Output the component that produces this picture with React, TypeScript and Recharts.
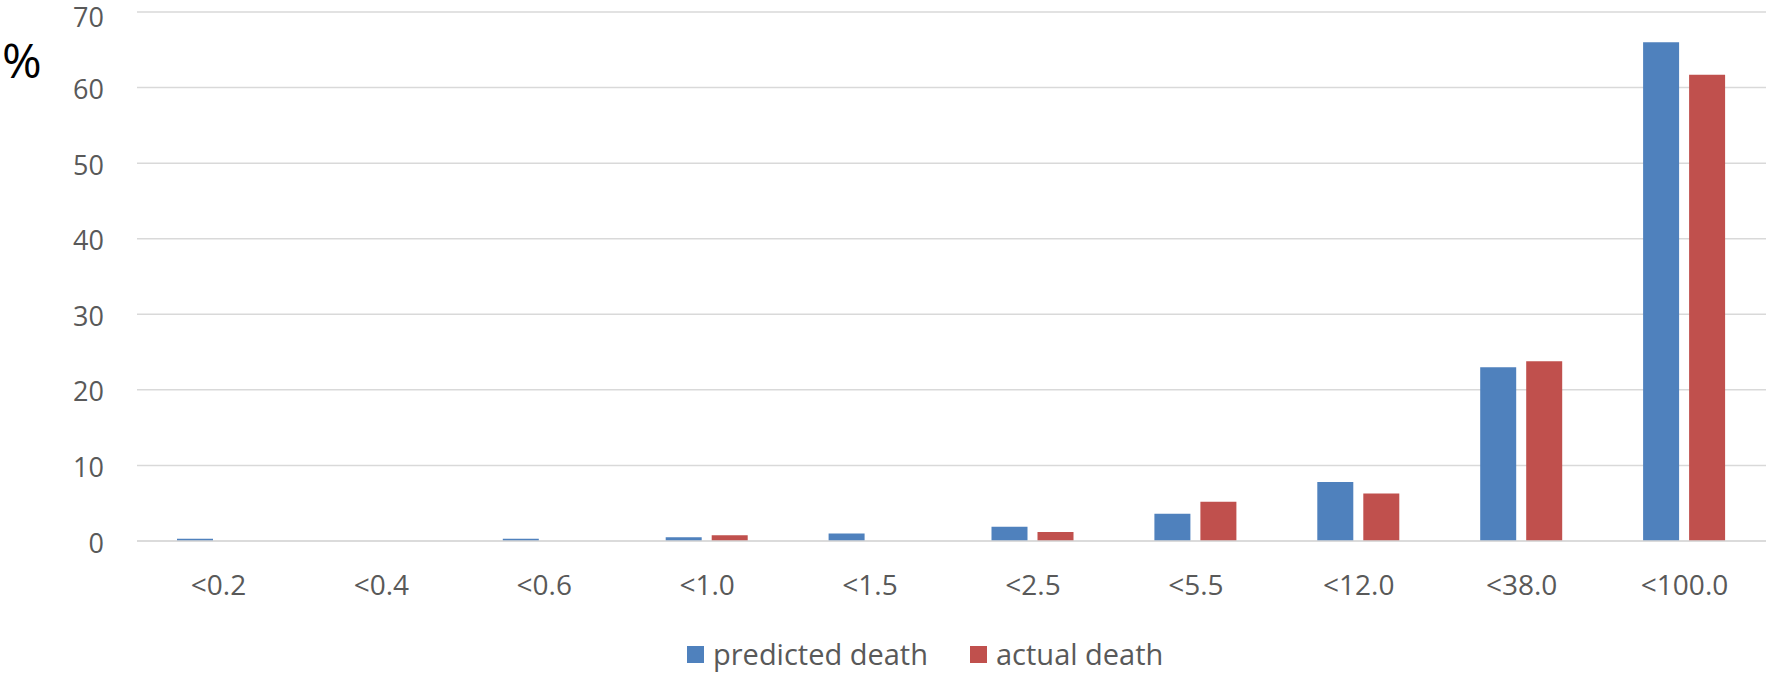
import React from 'react';
import { BarChart, Bar, XAxis, YAxis, CartesianGrid, Legend } from 'recharts';

const categories = ['<0.2', '<0.4', '<0.6', '<1.0', '<1.5', '<2.5', '<5.5', '<12.0', '<38.0', '<100.0'];
const predictedDeath = [0.3, 0, 0.3, 0.5, 1.0, 1.9, 3.6, 7.8, 23.0, 66.0];
const actualDeath = [0, 0, 0, 0.75, 0, 1.2, 5.2, 6.3, 23.8, 61.7];
const yTicks = [0, 10, 20, 30, 40, 50, 60, 70];

const BLUE = '#4F81BD';
const RED = '#C0504D';
const FONT = '"Open Sans", "Noto Sans", sans-serif';
const GREY = '#595959';

const data = categories.map((c, i) => ({
  name: c,
  predicted: predictedDeath[i],
  actual: actualDeath[i],
}));

const legendItems = [
  { label: 'predicted death', color: BLUE },
  { label: 'actual death', color: RED },
];

const LegendContent = () => (
  <div style={{ display: 'flex', alignItems: 'center', fontFamily: FONT, fontSize: 29, color: GREY, whiteSpace: 'nowrap', lineHeight: '36px' }}>
    {legendItems.map((it, i) => (
      <div key={it.label} style={{ display: 'flex', alignItems: 'center', marginRight: i === 0 ? 42 : 0 }}>
        <span style={{ display: 'inline-block', width: 17, height: 17, background: it.color, marginRight: 9 }} />
        <span>{it.label}</span>
      </div>
    ))}
  </div>
);

const PercentLabel = () => (
  <text x={2} y={78} fontSize={48} fontFamily={FONT} fill="#000">%</text>
);

export default function App() {
  return (
    <div style={{ position: 'absolute', left: 0, top: 0, width: 1769, height: 674, background: '#fff' }}>
      <BarChart
        width={1769}
        height={674}
        data={data}
        margin={{ top: 12, right: 3, left: 0, bottom: 73 }}
        barSize={36}
        barGap={10}
      >
        <CartesianGrid vertical={false} stroke="#d9d9d9" strokeWidth={1.5} />
        <XAxis
          dataKey="name"
          height={60}
          axisLine={{ stroke: '#d9d9d9', strokeWidth: 1.5 }}
          tickLine={false}
          tickSize={0}
          tickMargin={34}
          tick={{ fill: GREY, fontSize: 28, fontFamily: FONT }}
          interval={0}
        />
        <YAxis
          width={137}
          domain={[0, 70]}
          ticks={yTicks}
          axisLine={false}
          tickLine={false}
          tickSize={0}
          tickMargin={33}
          tick={{ fill: GREY, fontSize: 27, fontFamily: FONT, dy: 2 }}
          label={<PercentLabel />}
        />
        <Legend
          layout="horizontal"
          verticalAlign="middle"
          align="center"
          content={<LegendContent />}
          wrapperStyle={{ top: 636, left: 687, width: 560, height: 36 }}
        />
        <Bar dataKey="predicted" name="predicted death" fill={BLUE} isAnimationActive={false} />
        <Bar dataKey="actual" name="actual death" fill={RED} isAnimationActive={false} />
      </BarChart>
    </div>
  );
}
